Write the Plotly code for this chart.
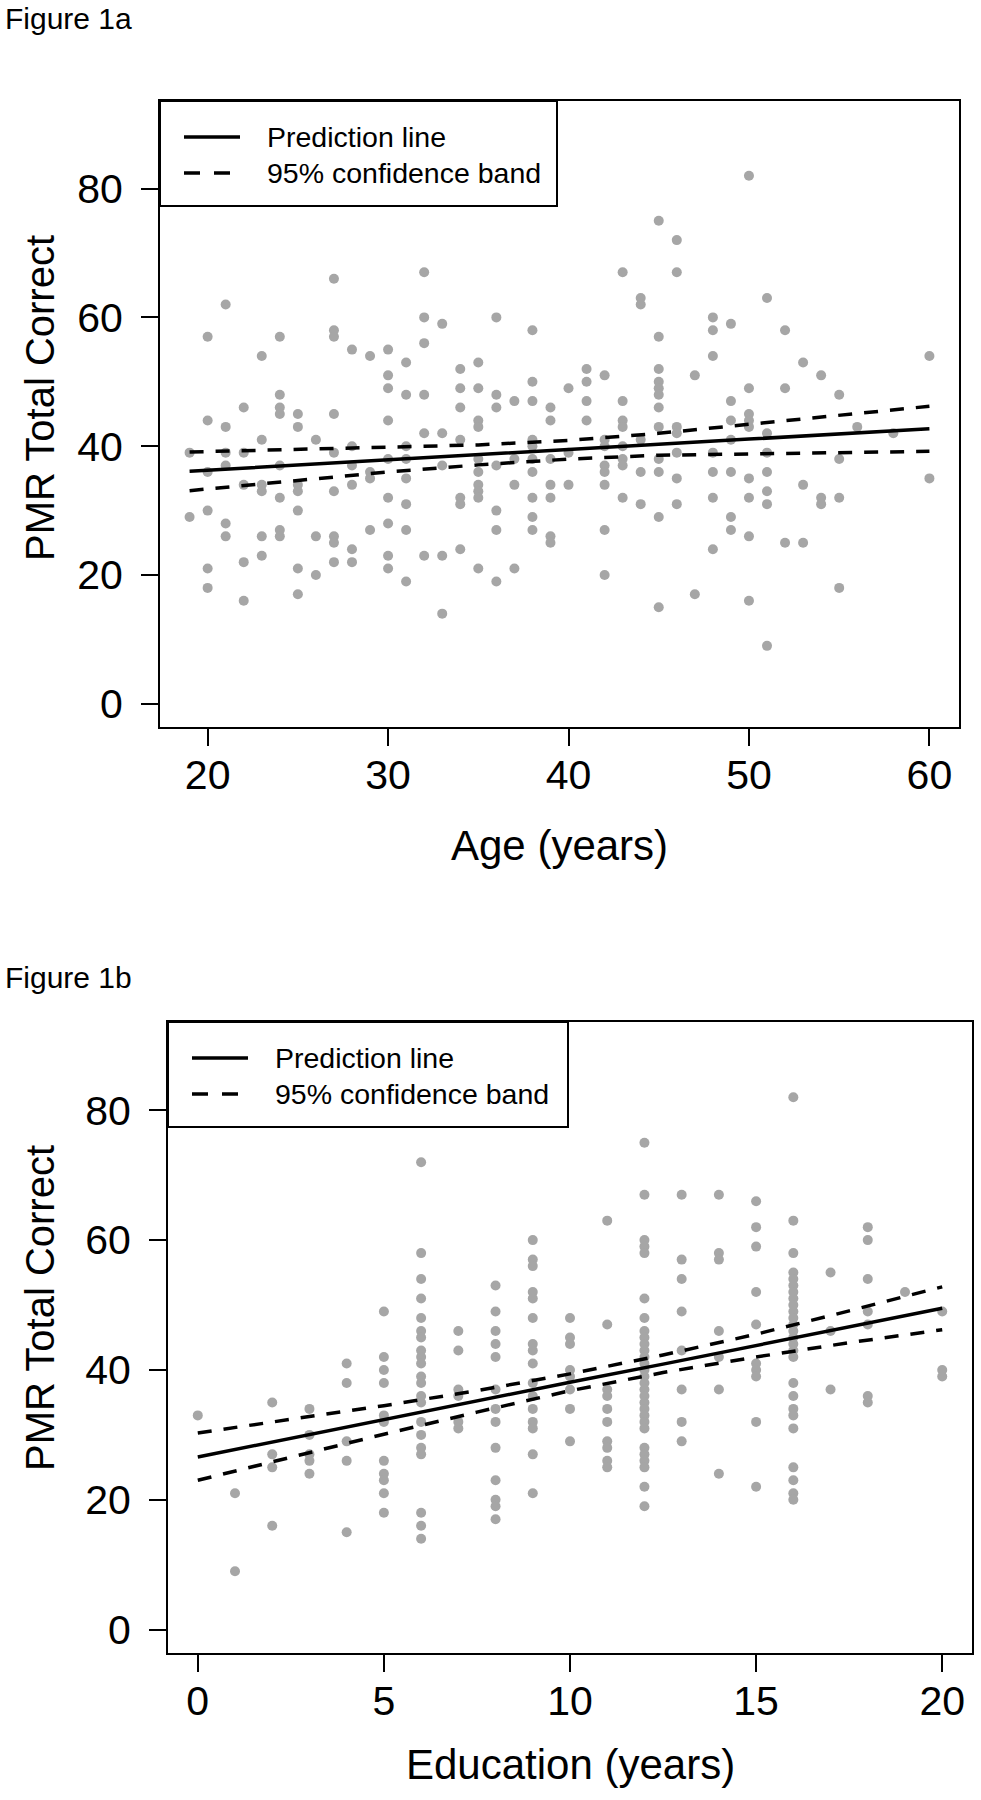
import plotly.graph_objects as go

# ---------------- Panel a data (Age vs PMR Total Correct) ----------------
age_values = [19, 20, 21, 22, 23, 24, 25, 26, 27, 28, 29, 30, 31, 32, 33, 34, 35, 36, 37, 38,
              39, 40, 41, 42, 43, 44, 45, 46, 47, 48, 49, 50, 51, 52, 53, 54, 55, 56, 58, 60]
pmr_by_age = [
    [39, 29],
    [57, 44, 36, 30, 21, 18],
    [62, 43, 39, 37, 28, 26],
    [46, 39, 34, 22, 16],
    [54, 41, 34, 33, 26, 23],
    [57, 48, 46, 45, 37, 32, 27, 26],
    [45, 43, 34, 33, 30, 21, 17],
    [41, 26, 20],
    [66, 58, 57, 45, 39, 33, 26, 25, 22],
    [55, 40, 37, 34, 24, 22],
    [54, 36, 35, 27],
    [55, 51, 49, 44, 38, 32, 28, 23, 21],
    [53, 48, 40, 38, 35, 31, 27, 19],
    [67, 60, 56, 48, 42, 23],
    [59, 42, 37, 23, 14],
    [52, 49, 46, 41, 32, 31, 24],
    [53, 49, 44, 43, 38, 36, 34, 33, 32, 21],
    [60, 48, 46, 37, 30, 27, 19],
    [47, 38, 34, 21],
    [58, 50, 47, 41, 40, 38, 36, 32, 29, 27],
    [46, 44, 38, 34, 32, 26, 25],
    [49, 39, 34],
    [52, 50, 47, 44],
    [51, 41, 40, 37, 36, 34, 27, 20],
    [67, 47, 44, 43, 40, 38, 37, 32],
    [63, 62, 41, 36, 31],
    [75, 57, 52, 50, 49, 48, 46, 43, 38, 36, 29, 15],
    [72, 67, 43, 42, 39, 35, 31],
    [51, 17],
    [60, 58, 54, 39, 36, 32, 24],
    [59, 47, 44, 41, 36, 29, 27],
    [82, 49, 45, 44, 43, 35, 32, 26, 16],
    [63, 42, 39, 36, 33, 31, 9],
    [58, 49, 25],
    [53, 34, 25],
    [51, 32, 31],
    [48, 38, 32, 18],
    [43],
    [42],
    [54, 35],
]
# prediction line and 95% confidence band
fit_age = [19, 25, 30, 35, 40, 45, 50, 55, 60]
fit_age_pred = [36.1, 37.1, 37.9, 38.7, 39.5, 40.3, 41.1, 41.9, 42.7]
fit_age_upper = [39.1, 39.5, 39.8, 40.2, 40.9, 42.0, 43.4, 44.8, 46.2]
fit_age_lower = [33.1, 34.7, 36.0, 37.1, 38.0, 38.6, 38.8, 39.0, 39.2]

# ---------------- Panel b data (Education vs PMR Total Correct) ----------------
edu_values = list(range(0, 21))
pmr_by_edu = [
    [33],
    [21, 9],
    [35, 27, 25, 16],
    [34, 30, 27, 26, 24],
    [41, 38, 29, 26, 15],
    [49, 42, 40, 38, 33, 32, 26, 24, 23, 21, 18],
    [72, 58, 54, 51, 48, 46, 45, 43, 42, 41, 39, 38, 36, 35, 32, 30, 28, 27, 18, 16, 14],
    [46, 43, 37, 36, 32, 31],
    [53, 49, 46, 44, 42, 37, 34, 32, 28, 23, 20, 19, 17],
    [60, 57, 56, 52, 51, 48, 44, 43, 41, 38, 36, 34, 32, 31, 27, 21],
    [48, 45, 44, 40, 39, 37, 34, 29],
    [63, 47, 37, 36, 34, 32, 29, 28, 26, 25],
    [75, 67, 60, 59, 58, 51, 48, 46, 45, 44, 43, 42, 41, 40, 39, 38, 37, 36, 35, 34, 33,
     32, 31, 28, 27, 26, 25, 22, 19],
    [67, 57, 54, 49, 43, 37, 32, 29],
    [67, 58, 57, 46, 42, 37, 24],
    [66, 62, 59, 52, 47, 41, 40, 39, 32, 22],
    [82, 63, 58, 55, 54, 53, 52, 51, 50, 49, 48, 47, 46, 45, 44, 43, 42, 38, 36, 34, 33,
     31, 25, 23, 21, 20],
    [55, 46, 37],
    [62, 60, 54, 49, 47, 36, 35],
    [52],
    [49, 40, 39],
]
fit_edu = [0, 2.5, 5, 7.5, 10, 12.5, 15, 17.5, 20]
fit_edu_pred = [26.6, 29.5, 32.3, 35.2, 38.1, 40.9, 43.8, 46.6, 49.5]
fit_edu_upper = [30.3, 32.4, 34.5, 36.8, 39.4, 42.3, 45.5, 49.1, 52.8]
fit_edu_lower = [23.0, 26.6, 30.1, 33.5, 36.8, 39.6, 42.0, 44.2, 46.2]

age_ticks = [20, 30, 40, 50, 60]
edu_ticks = [0, 5, 10, 15, 20]
pmr_ticks = [0, 20, 40, 60, 80]

legend_labels = ["Prediction line", "95% confidence band"]


def flatten(xs, groups):
    xo, yo = [], []
    for x, g in zip(xs, groups):
        for v in g:
            xo.append(x)
            yo.append(v)
    return xo, yo


W, H = 981, 1800
FONT = "Liberation Sans, Arial, Helvetica, sans-serif"
PT_COLOR = "#A6A6A6"
LW = 3.5
DASH = "14px,12px"

fig = go.Figure()

ax, ay = flatten(age_values, pmr_by_age)
bx, by = flatten(edu_values, pmr_by_edu)

fig.add_trace(go.Scatter(x=ax, y=ay, mode="markers", xaxis="x", yaxis="y",
                         marker=dict(size=10, color=PT_COLOR), showlegend=False))
fig.add_trace(go.Scatter(x=fit_age, y=fit_age_upper, mode="lines", xaxis="x", yaxis="y",
                         line=dict(color="black", width=LW, dash=DASH), showlegend=False))
fig.add_trace(go.Scatter(x=fit_age, y=fit_age_lower, mode="lines", xaxis="x", yaxis="y",
                         line=dict(color="black", width=LW, dash=DASH), showlegend=False))
fig.add_trace(go.Scatter(x=fit_age, y=fit_age_pred, mode="lines", xaxis="x", yaxis="y",
                         line=dict(color="black", width=LW), showlegend=False))

fig.add_trace(go.Scatter(x=bx, y=by, mode="markers", xaxis="x2", yaxis="y2",
                         marker=dict(size=10, color=PT_COLOR), showlegend=False))
fig.add_trace(go.Scatter(x=fit_edu, y=fit_edu_upper, mode="lines", xaxis="x2", yaxis="y2",
                         line=dict(color="black", width=LW, dash=DASH), showlegend=False))
fig.add_trace(go.Scatter(x=fit_edu, y=fit_edu_lower, mode="lines", xaxis="x2", yaxis="y2",
                         line=dict(color="black", width=LW, dash=DASH), showlegend=False))
fig.add_trace(go.Scatter(x=fit_edu, y=fit_edu_pred, mode="lines", xaxis="x2", yaxis="y2",
                         line=dict(color="black", width=LW), showlegend=False))


def px_x(p):
    return p / W


def px_y(p):
    return 1 - p / H


axis_common = dict(showline=True, mirror=True, linecolor="black", linewidth=2,
                   ticks="outside", ticklen=17, tickwidth=2, tickcolor="black",
                   showgrid=False, zeroline=False,
                   tickfont=dict(family=FONT, size=41, color="black"))

# panel geometry (pixels)
A = dict(l=160, r=959, t=101, b=727)
B = dict(l=168, r=972, t=1022, b=1653)

fig.update_layout(
    width=W, height=H,
    margin=dict(l=0, r=0, t=0, b=0),
    paper_bgcolor="white", plot_bgcolor="white",
    showlegend=False,
    xaxis=dict(domain=[px_x(A["l"]), px_x(A["r"])], anchor="y", range=[17.36, 61.64],
               tickvals=age_ticks, ticklabelstandoff=-6, **axis_common),
    yaxis=dict(domain=[px_y(A["b"]), px_y(A["t"])], anchor="x", range=[-3.6, 93.6],
               tickvals=pmr_ticks, ticklabelstandoff=10, **axis_common),
    xaxis2=dict(domain=[px_x(B["l"]), px_x(B["r"])], anchor="y2", range=[-0.8, 20.8],
                tickvals=edu_ticks, ticklabelstandoff=-6, **axis_common),
    yaxis2=dict(domain=[px_y(B["b"]), px_y(B["t"])], anchor="x2", range=[-3.6, 93.6],
                tickvals=pmr_ticks, ticklabelstandoff=10, **axis_common),
)

shapes = []
annotations = []


def add_legend(left, top, right, bottom):
    shapes.append(dict(type="rect", xref="paper", yref="paper",
                       x0=px_x(left), x1=px_x(right), y0=px_y(bottom), y1=px_y(top),
                       line=dict(color="black", width=2), fillcolor="white", layer="above"))
    y1 = top + 36
    y2 = top + 72
    shapes.append(dict(type="line", xref="paper", yref="paper",
                       x0=px_x(left + 24), x1=px_x(left + 80), y0=px_y(y1), y1=px_y(y1),
                       line=dict(color="black", width=LW), layer="above"))
    shapes.append(dict(type="line", xref="paper", yref="paper",
                       x0=px_x(left + 24), x1=px_x(left + 80), y0=px_y(y2), y1=px_y(y2),
                       line=dict(color="black", width=LW, dash="16px,14px"), layer="above"))
    for txt, yy in zip(legend_labels, [y1, y2]):
        annotations.append(dict(text=txt, xref="paper", yref="paper", x=px_x(left + 105),
                                y=px_y(yy), xanchor="left", yanchor="middle", showarrow=False,
                                font=dict(family=FONT, size=28.5, color="black")))


add_legend(A["l"], A["t"], 557, 206)
add_legend(B["l"], B["t"], 568, 1127)

title_font = dict(family=FONT, size=42, color="black")
ytitle_font = dict(family=FONT, size=40, color="black")
annotations += [
    dict(text="Figure 1a", xref="paper", yref="paper", x=px_x(3), y=px_y(19),
         xanchor="left", yanchor="middle", showarrow=False,
         font=dict(family=FONT, size=30, color="black")),
    dict(text="Figure 1b", xref="paper", yref="paper", x=px_x(3), y=px_y(977),
         xanchor="left", yanchor="middle", showarrow=False,
         font=dict(family=FONT, size=30, color="black")),
    dict(text="Age (years)", xref="paper", yref="paper", x=px_x((A["l"] + A["r"]) / 2),
         y=px_y(845), xanchor="center", yanchor="middle", showarrow=False, font=title_font),
    dict(text="Education (years)", xref="paper", yref="paper", x=px_x((B["l"] + B["r"]) / 2),
         y=px_y(1764), xanchor="center", yanchor="middle", showarrow=False, font=title_font),
    dict(text="PMR Total Correct", xref="paper", yref="paper", x=px_x(40),
         y=px_y(398), xanchor="center", yanchor="middle", textangle=-90,
         showarrow=False, font=ytitle_font),
    dict(text="PMR Total Correct", xref="paper", yref="paper", x=px_x(40),
         y=px_y(1308), xanchor="center", yanchor="middle", textangle=-90,
         showarrow=False, font=ytitle_font),
]

fig.update_layout(shapes=shapes, annotations=annotations)
fig.write_html("out.html",
               config={"displayModeBar": False, "staticPlot": True},
               post_script="document.body.style.margin='0';document.body.style.padding='0';")
